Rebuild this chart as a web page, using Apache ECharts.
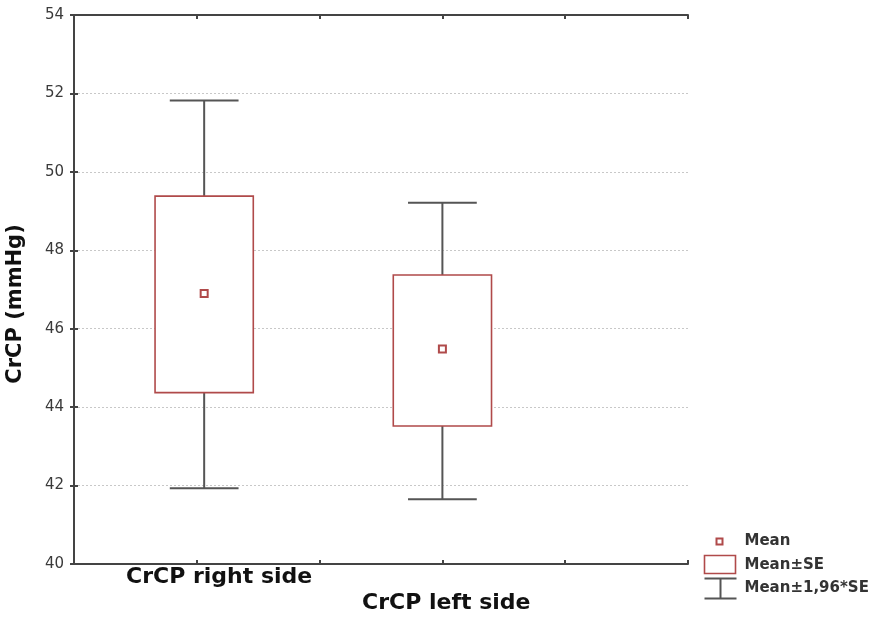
<!DOCTYPE html>
<html>
<head>
<meta charset="utf-8">
<script src="https://cdn.jsdelivr.net/npm/echarts@6/dist/echarts.min.js"></script>
<style>
  html, body { margin: 0; padding: 0; background: #fff; }
  #chart { width: 871px; height: 623px; }
</style>
</head>
<body>
<div id="chart"></div>
<script>
// values
let categories = ['CrCP right side', 'CrCP left side'];
let xPos   = [1.06, 3.0];           // position of each group on the 0..5 x scale
let means  = [46.90, 45.48];
let seLow  = [44.37, 43.52];
let seHigh = [49.38, 47.37];
let ciLow  = [41.93, 41.65];
let ciHigh = [51.82, 49.21];
let yTicks = [40, 42, 44, 46, 48, 50, 52, 54];

let FONT = '"DejaVu Sans", sans-serif';
let BOX_RED = '#b04a4a';
let WHISK = '#555';

let chart = echarts.init(document.getElementById('chart'), null, { renderer: 'canvas' });

let rows = categories.map((c, i) => [xPos[i], means[i], seLow[i], seHigh[i], ciLow[i], ciHigh[i]]);

function renderBox(params, api) {
  let x = api.value(0);
  let pMean = api.coord([x, api.value(1)]);
  let pSeL = api.coord([x, api.value(2)]);
  let pSeH = api.coord([x, api.value(3)]);
  let pCiL = api.coord([x, api.value(4)]);
  let pCiH = api.coord([x, api.value(5)]);
  let boxW = api.size([0.8, 0])[0];
  let capW = api.size([0.56, 0])[0];
  let cx = pMean[0];
  let lineStyle = { stroke: WHISK, lineWidth: 2 };
  return {
    type: 'group',
    children: [
      { type: 'line', shape: { x1: cx, y1: pSeH[1], x2: cx, y2: pCiH[1] }, style: lineStyle },
      { type: 'line', shape: { x1: cx, y1: pSeL[1], x2: cx, y2: pCiL[1] }, style: lineStyle },
      { type: 'line', shape: { x1: cx - capW / 2, y1: pCiH[1], x2: cx + capW / 2, y2: pCiH[1] }, style: lineStyle },
      { type: 'line', shape: { x1: cx - capW / 2, y1: pCiL[1], x2: cx + capW / 2, y2: pCiL[1] }, style: lineStyle },
      { type: 'rect', shape: { x: cx - boxW / 2, y: pSeH[1], width: boxW, height: pSeL[1] - pSeH[1] },
        style: { fill: '#fff', stroke: BOX_RED, lineWidth: 1.6 } },
      { type: 'rect', shape: { x: cx - 3.5, y: pMean[1] - 3.5, width: 7, height: 7 },
        style: { fill: '#fff', stroke: BOX_RED, lineWidth: 2 } }
    ]
  };
}

let axisLine = { show: true, lineStyle: { color: '#444', width: 2 } };
let innerTick = { show: true, inside: true, length: 4, lineStyle: { color: '#444', width: 2 } };

let option = {
  animation: false,
  backgroundColor: '#fff',
  grid: { left: 74, top: 15, right: 183, bottom: 59, containLabel: false },
  xAxis: [
    { type: 'value', min: 0, max: 5, interval: 1, axisLine: axisLine, axisTick: innerTick,
      axisLabel: { show: false }, splitLine: { show: false } },
    { type: 'value', position: 'top', min: 0, max: 5, interval: 1, axisLine: axisLine, axisTick: innerTick,
      axisLabel: { show: false }, splitLine: { show: false } }
  ],
  yAxis: [
    { type: 'value', min: yTicks[0], max: yTicks[yTicks.length - 1], interval: 2,
      axisLine: axisLine, axisTick: innerTick,
      axisLabel: { color: '#3a3a3a', fontFamily: FONT, fontSize: 15, margin: 10 },
      splitLine: { show: true, lineStyle: { color: '#c8c8c8', type: [2, 2], width: 1 } } },
    { type: 'value', position: 'right', min: yTicks[0], max: yTicks[yTicks.length - 1], interval: 2,
      axisLine: axisLine, axisTick: innerTick, axisLabel: { show: false }, splitLine: { show: false } }
  ],
  series: [
    { type: 'custom', name: 'CrCP', renderItem: renderBox, data: rows, encode: { x: 0, y: [1, 2, 3, 4, 5] }, clip: false }
  ],
  graphic: [
    // category labels (staggered)
    { type: 'text', left: 126, top: 566, style: { text: categories[0], font: 'bold 22px ' + FONT, fill: '#111' } },
    { type: 'text', left: 362, top: 592, style: { text: categories[1], font: 'bold 22px ' + FONT, fill: '#111' } },
    // y axis title
    { type: 'text', x: 16, y: 304, rotation: Math.PI / 2,
      style: { text: 'CrCP (mmHg)', font: 'bold 21px ' + FONT, fill: '#111', align: 'center', verticalAlign: 'middle' } },
    // legend
    { type: 'group', left: 702, top: 534, children: [
      { type: 'rect', shape: { x: 13, y: 1, width: 6, height: 6 }, style: { fill: '#fff', stroke: BOX_RED, lineWidth: 2 } },
      { type: 'rect', shape: { x: 1, y: 18, width: 31, height: 18 }, style: { fill: '#fff', stroke: BOX_RED, lineWidth: 1.6 } },
      { type: 'line', shape: { x1: 1, y1: 41, x2: 33, y2: 41 }, style: { stroke: WHISK, lineWidth: 2 } },
      { type: 'line', shape: { x1: 17, y1: 41, x2: 17, y2: 61 }, style: { stroke: WHISK, lineWidth: 2 } },
      { type: 'line', shape: { x1: 1, y1: 61, x2: 33, y2: 61 }, style: { stroke: WHISK, lineWidth: 2 } },
      { type: 'text', x: 41, y: 4, style: { text: 'Mean', font: 'bold 15px ' + FONT, fill: '#333', verticalAlign: 'middle' } },
      { type: 'text', x: 41, y: 28, style: { text: 'Mean±SE', font: 'bold 15px ' + FONT, fill: '#333', verticalAlign: 'middle' } },
      { type: 'text', x: 41, y: 51, style: { text: 'Mean±1,96*SE', font: 'bold 15px ' + FONT, fill: '#333', verticalAlign: 'middle' } }
    ] }
  ]
};

chart.setOption(option);
</script>
</body>
</html>
